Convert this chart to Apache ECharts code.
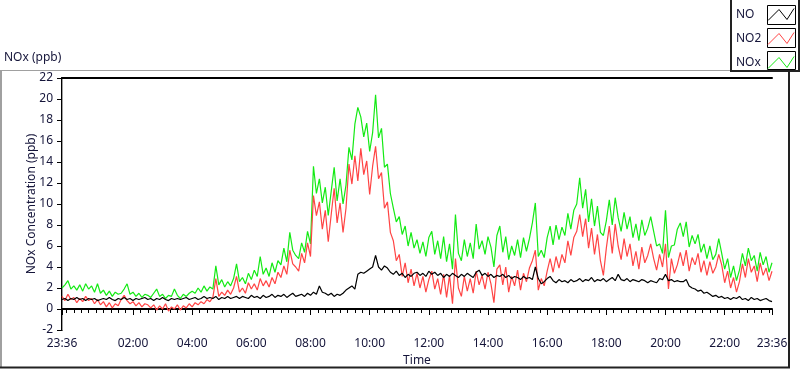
<!DOCTYPE html>
<html><head><meta charset="utf-8">
<script src="https://cdn.jsdelivr.net/npm/echarts@6/dist/echarts.min.js"></script>
<style>html,body{margin:0;padding:0;background:#fff}#c{width:800px;height:369px}</style>
</head><body><div id="c"></div>
<script>
// ---- data ----
const seriesNames = ['NO', 'NO2', 'NOx'];
const stepMinutes = 6;            // one sample every 6 minutes, starting 23:36
const startMinuteOfDay = 23 * 60 + 36;
const majorTickMinutes = [0, 144, 264, 384, 504, 624, 744, 864, 984, 1104, 1224, 1344, 1440];
const yTicks = { min: -2, max: 22, interval: 2 };

const NO = [
0.9,1.0,0.8,1.0,0.9,1.1,0.9,1.0,0.8,1.0,
0.9,1.0,0.8,0.9,1.0,0.9,1.1,0.9,0.8,1.0,
0.9,1.1,0.9,1.0,0.8,1.0,0.9,1.0,1.1,0.9,
1.0,0.8,1.0,0.9,1.1,0.9,0.8,1.0,0.9,1.0,
0.9,1.0,1.1,0.9,1.0,1.1,0.9,1.0,1.2,1.0,
1.1,1.0,1.2,0.9,1.1,1.0,1.2,1.0,1.1,1.2,
1.0,1.2,1.1,1.0,1.3,1.1,1.2,1.0,1.3,1.1,
1.2,1.4,1.1,1.3,1.2,1.4,1.1,1.3,1.5,1.2,
1.3,1.4,1.2,1.5,1.3,1.6,1.4,2.2,1.6,1.5,
1.3,1.5,1.2,1.4,1.3,1.5,1.8,2.0,2.2,1.9,
3.3,3.5,3.4,3.6,3.8,4.0,5.1,4.0,3.7,4.1,
3.9,3.5,3.3,3.6,3.2,3.4,3.0,3.3,3.1,3.4,
3.5,3.2,3.4,3.1,3.6,3.3,3.5,3.2,3.4,3.0,
3.3,3.1,3.4,3.2,3.0,3.3,3.1,3.4,3.2,3.0,
3.5,3.7,3.2,3.4,3.1,3.3,3.0,3.2,3.1,3.3,
3.0,3.2,2.9,3.1,3.0,2.8,3.1,2.9,3.0,2.8,
4.0,2.9,2.4,2.6,2.9,3.1,2.7,2.5,2.8,2.6,
2.7,2.5,2.8,2.6,2.7,2.9,2.6,2.8,2.7,3.0,
2.6,2.8,2.7,2.9,2.6,2.8,3.0,2.7,3.3,2.8,
2.7,2.9,2.6,2.8,2.7,2.6,2.8,2.7,2.5,2.7,
2.6,2.5,2.9,2.8,3.3,2.7,2.8,2.6,2.7,2.6,
2.6,2.8,2.2,2.0,1.9,1.7,1.8,1.5,1.6,1.4,
1.2,1.3,1.1,1.2,1.0,1.1,0.9,1.1,1.0,1.2,
0.9,1.0,0.8,1.1,0.9,1.0,0.8,0.9,1.0,0.8,0.7
];

const NO2 = [
1.2,0.8,1.4,0.9,1.1,0.6,1.0,0.7,1.2,0.8,
1.0,0.5,0.9,0.4,0.7,0.2,0.6,0.1,0.5,0.3,
0.9,1.3,0.8,0.5,0.7,0.3,0.6,0.2,0.5,0.4,
0.1,0.4,-0.1,0.3,0.0,0.5,-0.2,0.2,0.0,0.4,
-0.1,0.3,0.1,0.5,0.2,0.6,0.4,0.7,0.5,0.9,
0.7,1.1,2.9,1.2,1.6,1.3,1.8,1.4,2.0,3.1,
1.6,2.0,1.5,2.5,1.9,2.4,1.8,2.9,2.2,2.7,
2.1,3.0,2.4,3.5,3.0,4.1,3.3,5.6,4.3,4.0,
3.6,5.3,4.4,6.3,5.0,10.8,8.9,10.2,7.6,9.4,
6.4,9.0,11.5,8.2,10.1,7.3,9.6,13.8,11.9,14.6,
12.2,15.3,12.8,14.1,10.9,13.6,15.5,12.4,13.0,9.6,
10.2,7.3,6.5,4.6,5.2,3.1,4.4,2.5,3.8,2.2,
3.4,2.0,3.1,1.6,2.8,3.6,1.9,2.9,1.4,3.3,
1.1,3.2,0.5,4.8,2.0,1.2,3.1,1.7,2.9,1.5,
3.6,2.3,3.2,1.9,3.5,2.4,0.6,3.8,4.2,2.3,
4.0,1.6,3.1,2.2,3.7,1.8,3.4,2.6,3.9,4.6,
5.6,1.8,2.9,2.2,3.6,4.8,3.5,5.0,3.9,5.2,
4.4,6.5,5.1,6.8,7.4,9.0,6.9,8.6,5.8,7.7,
5.2,7.1,4.6,3.2,5.8,7.9,5.3,8.1,6.0,4.7,
6.7,5.0,6.2,4.1,5.5,3.8,5.9,4.4,5.1,6.2,
4.8,3.7,5.2,4.0,6.2,1.9,4.8,3.4,4.2,5.4,
4.1,5.6,3.6,4.9,4.2,5.3,3.5,4.6,3.2,4.5,
3.4,4.0,5.2,4.2,2.5,3.6,2.0,3.0,1.6,2.6,
4.3,3.0,4.8,3.5,4.1,2.6,4.4,3.2,3.9,2.7,3.6
];

const NOX = [
2.0,2.3,2.7,1.9,2.2,1.8,2.3,1.7,2.4,1.9,
2.2,1.6,2.4,1.5,1.8,1.3,1.7,1.2,1.6,1.4,
1.5,1.9,2.4,1.4,1.6,1.2,1.5,1.1,1.4,1.3,
1.1,1.5,1.9,1.2,1.4,1.0,1.3,1.2,1.9,1.3,
1.0,1.4,1.2,1.5,1.7,1.5,2.0,1.6,2.2,1.7,
2.1,1.9,4.1,2.3,2.8,2.1,2.6,2.2,2.9,4.3,
2.6,3.0,2.4,3.4,2.8,3.7,3.1,5.0,3.3,3.9,
3.1,4.4,3.5,4.6,4.2,5.8,4.5,7.3,5.6,5.1,
4.8,6.3,5.4,7.4,6.2,13.6,11.0,12.4,10.1,11.6,
8.9,11.2,13.5,10.3,12.4,10.0,11.8,15.4,14.2,17.6,
19.2,18.3,16.4,17.7,15.0,16.8,20.4,16.3,17.2,13.5,
13.8,11.0,9.6,8.3,8.8,7.1,7.9,6.0,7.3,5.8,
6.6,5.3,6.4,5.0,6.8,7.4,5.2,6.5,4.8,6.9,
4.5,6.2,3.8,9.0,5.3,4.6,6.6,5.0,6.3,4.8,
8.1,5.7,6.5,5.2,6.9,5.9,4.0,7.0,7.9,5.4,
6.9,4.7,6.0,5.1,6.6,4.9,6.8,5.5,6.7,8.2,
10.1,5.0,5.6,4.9,6.8,7.9,6.1,8.0,6.6,7.8,
7.0,9.1,7.6,9.4,10.0,12.5,9.6,11.4,8.3,10.5,
7.9,9.8,7.3,7.0,8.4,10.4,8.0,10.6,8.7,7.4,
9.2,7.6,8.8,6.8,8.1,6.5,8.5,7.0,7.7,8.8,
7.4,6.0,6.2,5.3,9.4,4.9,6.0,6.1,7.6,8.2,
6.9,8.3,5.9,7.0,6.2,7.1,5.4,6.2,4.8,6.0,
4.7,5.2,6.7,5.3,3.8,4.8,3.0,4.1,2.7,3.7,
5.3,4.1,5.8,4.6,5.1,3.6,5.4,4.2,5.0,3.5,4.4
];

// ---- helpers ----
function clock(m) {
  const t = (startMinuteOfDay + Math.round(m)) % 1440;
  const h = Math.floor(t / 60), mm = t % 60;
  return String(h).padStart(2, '0') + ':' + String(mm).padStart(2, '0');
}
const minorTickMinutes = [];
for (let m = 9; m < 1440; m += 15) minorTickMinutes.push(m);
function toPairs(arr) { return arr.map((v, i) => [i * stepMinutes, v]); }

const textColor = '#15153a';
const font = 'Noto Sans';
const colors = { NO: '#000000', NO2: '#ff4444', NOx: '#14ea14' };
const zigzag = 'path://M2,15L13,4L21,14L28,3';

const chart = echarts.init(document.getElementById('c'), null, { renderer: 'canvas' });
const hiddenAxisParts = { axisTick: { show: false }, axisLabel: { show: false }, splitLine: { show: false } };

chart.setOption({
  animation: false,
  backgroundColor: '#ffffff',
  textStyle: { fontFamily: font },
  title: {
    text: 'NOx (ppb)', left: 4, top: 52, padding: 0,
    textStyle: { fontSize: 12, fontWeight: 'normal', color: textColor, fontFamily: font }
  },
  legend: {
    orient: 'vertical', left: 736, top: 8, padding: 0, align: 'right',
    itemWidth: 26, itemHeight: 12, itemGap: 11, selectedMode: false,
    symbolKeepAspect: false,
    data: seriesNames.map(n => ({
      name: n, icon: zigzag,
      itemStyle: { color: 'rgba(0,0,0,0)', borderColor: colors[n], borderWidth: 1 }
    })),
    formatter: n => '{t|' + n + '}',
    textStyle: { rich: { t: { width: 27, height: 12, lineHeight: 12, align: 'left', fontSize: 12, fontFamily: font, color: textColor } } }
  },
  graphic: [
    { type: 'line', shape: { x1: 0, y1: 70.5, x2: 731, y2: 70.5 }, style: { stroke: '#a0a0a0', lineWidth: 1 } },
    { type: 'line', shape: { x1: 1, y1: 70, x2: 1, y2: 368 }, style: { stroke: '#a0a0a0', lineWidth: 2 } },
    { type: 'line', shape: { x1: 0, y1: 367.5, x2: 790, y2: 367.5 }, style: { stroke: '#222', lineWidth: 2 } },
    { type: 'line', shape: { x1: 789, y1: 71, x2: 789, y2: 368 }, style: { stroke: '#222', lineWidth: 2 } },
    { type: 'polyline', shape: { points: [[731, 0], [731, 71], [799, 71], [799, 0]] }, style: { stroke: '#222', lineWidth: 2, fill: null } },
    { type: 'rect', shape: { x: 767.5, y: 5.5, width: 28, height: 19 }, style: { stroke: '#000', lineWidth: 1, fill: null } },
    { type: 'rect', shape: { x: 767.5, y: 28.5, width: 28, height: 19 }, style: { stroke: '#000', lineWidth: 1, fill: null } },
    { type: 'rect', shape: { x: 767.5, y: 51.5, width: 28, height: 18 }, style: { stroke: '#000', lineWidth: 1, fill: null } }
  ],
  grid: { left: 62, right: 28, top: 78, bottom: 39, containLabel: false, outerBoundsMode: 'none' },
  xAxis: [
    {
      type: 'value', min: 0, max: 1440, position: 'bottom',
      axisLine: { lineStyle: { color: '#000', width: 2 } },
      axisTick: { customValues: majorTickMinutes, length: 6, lineStyle: { color: '#000', width: 1 } },
      axisLabel: { customValues: majorTickMinutes, formatter: clock, margin: 8, color: textColor, fontSize: 12, fontFamily: font },
      splitLine: { show: false },
      name: 'Time', nameLocation: 'middle', nameGap: 25, nameMoveOverlap: false,
      nameTextStyle: { color: textColor, fontSize: 12, fontFamily: font }
    },
    {
      type: 'value', min: 0, max: 1440, position: 'bottom',
      axisLine: { show: false },
      axisTick: { customValues: minorTickMinutes, length: 4, lineStyle: { color: '#000', width: 1 } },
      axisLabel: { show: false }, splitLine: { show: false }
    },
    Object.assign({ type: 'value', min: 0, max: 1440, position: 'top',
      axisLine: { lineStyle: { color: '#000', width: 2 } } }, hiddenAxisParts)
  ],
  yAxis: [
    {
      type: 'value', min: yTicks.min, max: yTicks.max, interval: yTicks.interval,
      axisLine: { show: true, lineStyle: { color: '#000', width: 2 } },
      axisTick: { show: true, length: 5, lineStyle: { color: '#000', width: 1 } },
      axisLabel: { margin: 9, color: textColor, fontSize: 12, fontFamily: font },
      splitLine: { show: false },
      name: 'NOx Concentration (ppb)', nameLocation: 'middle', nameGap: 24, nameRotate: 90, nameMoveOverlap: false,
      nameTextStyle: { color: textColor, fontSize: 12, fontFamily: font }
    },
    Object.assign({ type: 'value', min: yTicks.min, max: yTicks.max, position: 'right',
      axisLine: { show: true, lineStyle: { color: '#a0a0a0', width: 1 } } }, hiddenAxisParts)
  ],
  series: [
    { name: 'NOx', type: 'line', data: toPairs(NOX), showSymbol: false, symbol: 'none',
      lineStyle: { width: 1.2, color: colors.NOx }, itemStyle: { color: colors.NOx } },
    { name: 'NO2', type: 'line', data: toPairs(NO2), showSymbol: false, symbol: 'none',
      lineStyle: { width: 1.2, color: colors.NO2 }, itemStyle: { color: colors.NO2 } },
    { name: 'NO', type: 'line', data: toPairs(NO), showSymbol: false, symbol: 'none',
      lineStyle: { width: 1.2, color: colors.NO }, itemStyle: { color: colors.NO } }
  ]
});
</script>
</body></html>
